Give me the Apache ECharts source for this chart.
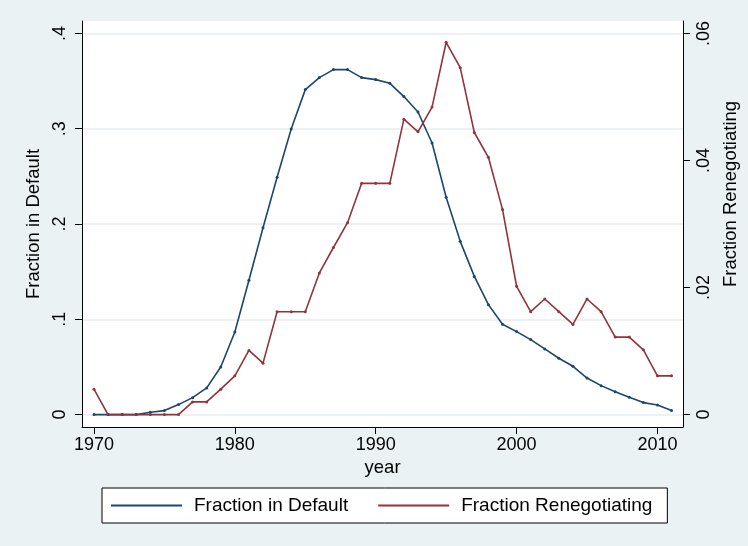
<!DOCTYPE html>
<html>
<head>
<meta charset="utf-8">
<script src="https://cdn.jsdelivr.net/npm/echarts@6/dist/echarts.min.js"></script>
<style>
  html, body { margin: 0; padding: 0; background: #eaf2f3; }
  #chart { width: 748px; height: 546px; }
</style>
</head>
<body>
<div id="chart"></div>
<script>
const years = [1970, 1971, 1972, 1973, 1974, 1975, 1976, 1977, 1978, 1979,
  1980, 1981, 1982, 1983, 1984, 1985, 1986, 1987, 1988, 1989,
  1990, 1991, 1992, 1993, 1994, 1995, 1996, 1997, 1998, 1999,
  2000, 2001, 2002, 2003, 2004, 2005, 2006, 2007, 2008, 2009,
  2010, 2011]

// left axis
const fracDefault = [0, 0, 0, 0, 0.0024, 0.0042, 0.0105, 0.0178, 0.028, 0.050,
  0.0867, 0.141, 0.196, 0.249, 0.2997, 0.341, 0.3536, 0.362, 0.362, 0.3536,
  0.3515, 0.3476, 0.3337, 0.3175, 0.285, 0.228, 0.1818, 0.145, 0.1154, 0.0948,
  0.0871, 0.0787, 0.0689, 0.0591, 0.0507, 0.0384, 0.0304, 0.0241, 0.0182, 0.0126,
  0.0101, 0.0042]

// right axis
const fracReneg = [0.0040, 0, 0, 0, 0, 0, 0, 0.0020, 0.0020, 0.0040,
  0.0061, 0.0101, 0.0081, 0.0162, 0.0162, 0.0162, 0.0223, 0.0263, 0.0302, 0.0364,
  0.0364, 0.0364, 0.0465, 0.0445, 0.0484, 0.0586, 0.0546, 0.0444, 0.0405, 0.0323,
  0.0202, 0.0162, 0.0182, 0.0162, 0.0142, 0.0182, 0.0162, 0.0122, 0.0122, 0.0102,
  0.0061, 0.0061]

const xTicks = [1970, 1980, 1990, 2000, 2010]
const leftTicks = [0, 0.1, 0.2, 0.3, 0.4]
const rightTicks = [0, 0.02, 0.04, 0.06]

const font = 'Liberation Sans, Arial, sans-serif'
const gridColor = '#e6eeef'

// stata style: .4 instead of 0.4
function stataNum(v) {
  if (Math.abs(v) < 1e-9) return '0'
  return String(+v.toFixed(4)).replace(/^0\./, '.')
}

const chart = echarts.init(document.getElementById('chart'))

function yAxisOpt(pos, min, max, ticks, name, gap, margin, namePad) {
  return {
    type: 'value',
    position: pos,
    min: min,
    max: max,
    name: name,
    nameLocation: 'middle',
    nameGap: gap,
    nameRotate: 90,
    nameTextStyle: { fontFamily: font, fontSize: 18.5, color: '#000', padding: namePad },
    axisLine: { show: true, onZero: false, lineStyle: { color: '#000', width: 1 } },
    axisTick: { show: true, length: 7, customValues: ticks, lineStyle: { color: '#000' } },
    axisLabel: {
      show: true,
      rotate: 90,
      margin: margin,
      customValues: ticks,
      formatter: stataNum,
      fontFamily: font,
      fontSize: 18,
      color: '#000'
    },
    splitLine: { show: pos === 'left', lineStyle: { color: gridColor, width: 1.5 } }
  }
}

chart.setOption({
  backgroundColor: '#eaf2f3',
  animation: false,
  grid: {
    left: 82, top: 21, right: 62, bottom: 119,
    show: true, backgroundColor: '#fff', borderWidth: 0
  },
  legend: {
    left: 102,
    top: 488,
    orient: 'horizontal',
    padding: [8, 15, 8, 9],
    itemGap: 30,
    itemWidth: 71,
    itemHeight: 2,
    icon: 'rect',
    backgroundColor: '#fff',
    borderColor: '#000',
    borderWidth: 1,
    borderRadius: 0,
    textStyle: { fontFamily: font, fontSize: 19, color: '#000', padding: [0, 0, 0, 7], lineHeight: 19 },
    data: ['Fraction in Default', 'Fraction Renegotiating']
  },
  xAxis: {
    type: 'value',
    min: 1969.15,
    max: 2011.82,
    name: 'year',
    nameLocation: 'middle',
    nameGap: 30,
    nameTextStyle: { fontFamily: font, fontSize: 18.5, color: '#000' },
    axisLine: { show: true, onZero: false, lineStyle: { color: '#000', width: 1 } },
    axisTick: { show: true, length: 7, customValues: xTicks, lineStyle: { color: '#000' } },
    axisLabel: {
      customValues: xTicks,
      formatter: v => String(v),
      margin: 9,
      fontFamily: font,
      fontSize: 18,
      color: '#000'
    },
    splitLine: { show: false }
  },
  yAxis: [
    yAxisOpt('left', -0.013, 0.413, leftTicks, 'Fraction in Default', 29, 13, 0),
    yAxisOpt('right', -0.00195, 0.06195, rightTicks, 'Fraction Renegotiating', 29, 12, [0, 0, 0, 60])
  ],
  series: [
    {
      name: 'Fraction in Default',
      type: 'line',
      yAxisIndex: 0,
      data: years.map((y, i) => [y, fracDefault[i]]),
      color: '#1a476f',
      lineStyle: { width: 1.6 },
      symbol: 'circle',
      symbolSize: 3,
      showSymbol: true
    },
    {
      name: 'Fraction Renegotiating',
      type: 'line',
      yAxisIndex: 1,
      data: years.map((y, i) => [y, fracReneg[i]]),
      color: '#90353b',
      lineStyle: { width: 1.6 },
      symbol: 'circle',
      symbolSize: 3,
      showSymbol: true
    }
  ]
})
</script>
</body>
</html>
